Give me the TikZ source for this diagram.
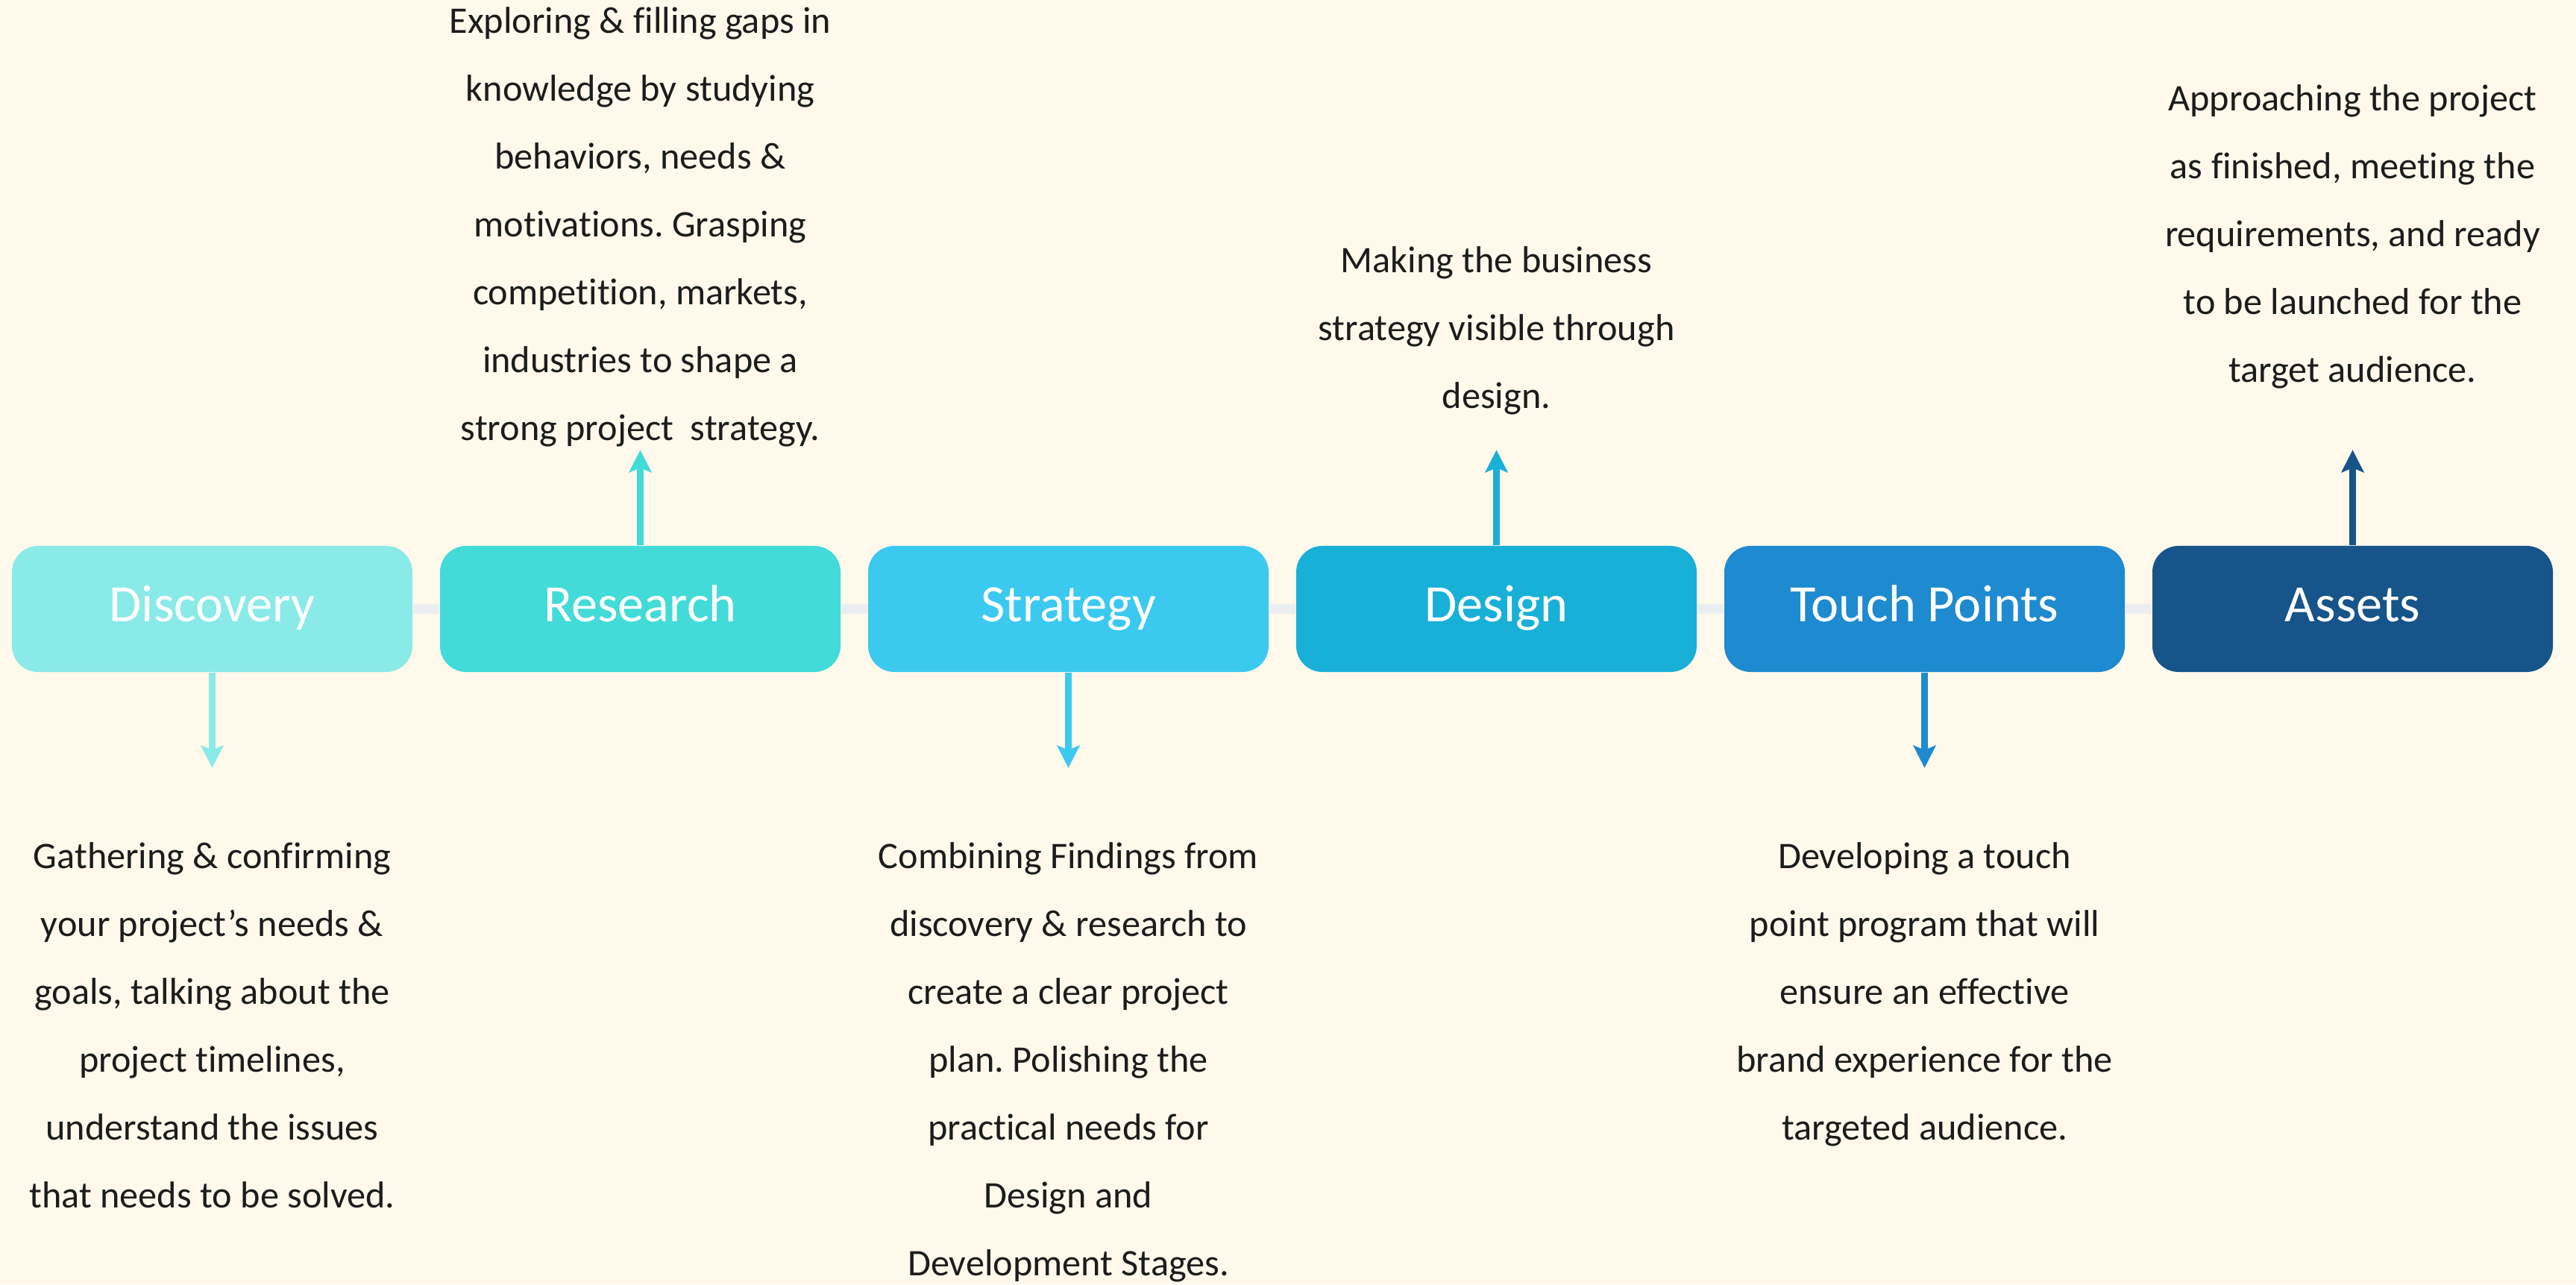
\documentclass[tikz,border=0pt]{standalone}
\usepackage{fontspec}
\setmainfont{Carlito}[Ligatures=NoCommon]
\usetikzlibrary{arrows.meta}
\frenchspacing
\definecolor{bgcream}{HTML}{FFF9EC}
\definecolor{linegrey}{HTML}{EBEEF0}
\definecolor{textdark}{HTML}{1C1C1C}
\definecolor{discoveryc}{HTML}{8AEAE8}
\definecolor{researchc}{HTML}{42DBD8}
\definecolor{strategyc}{HTML}{3BC9F0}
\definecolor{designc}{HTML}{19B0D8}
\definecolor{touchc}{HTML}{1E8AD0}
\definecolor{assetsc}{HTML}{165489}
\tikzset{
  stagebox/.style={rounded corners=0.35cm, minimum width=5.37cm, minimum height=1.69cm,
    inner sep=0pt, text height=14pt, text depth=4.6pt, text=white,
    font=\fontsize{20}{24}\selectfont},
  stagetext/.style={align=center, inner sep=0pt, anchor=north, text=textdark,
    font=\fontsize{14.3}{25.9}\selectfont},
  stagearrow/.style={-{Stealth[length=3mm,width=3mm,inset=0.6mm]}, line width=2.8pt},
  linkline/.style={linegrey, line width=3.7pt}
}
\begin{document}
\begin{tikzpicture}
  \useasboundingbox (0,0) rectangle (34.54,17.22);
  \fill[bgcream] (0,0) rectangle (34.54,17.22);
  % stages
  \node [stagebox, fill=discoveryc] (disc) at (2.845,9.055) {Discovery};
  \node [stagebox, fill=researchc] (res) at (8.585,9.055) {Research};
  \node [stagebox, fill=strategyc] (strat) at (14.325,9.055) {Strategy};
  \node [stagebox, fill=designc] (des) at (20.065,9.055) {Design};
  \node [stagebox, fill=touchc] (touch) at (25.805,9.055) {Touch Points};
  \node [stagebox, fill=assetsc] (assets) at (31.545,9.055) {Assets};
  % thin links between stages
  \draw [linkline] (disc.east) -- (res.west);
  \draw [linkline] (res.east) -- (strat.west);
  \draw [linkline] (strat.east) -- (des.west);
  \draw [linkline] (des.east) -- (touch.west);
  \draw [linkline] (touch.east) -- (assets.west);
  % arrow ends
  \coordinate (discTip) at ([yshift=-1.28cm]disc.south);
  \coordinate (resTip) at ([yshift=1.28cm]res.north);
  \coordinate (stratTip) at ([yshift=-1.28cm]strat.south);
  \coordinate (desTip) at ([yshift=1.28cm]des.north);
  \coordinate (touchTip) at ([yshift=-1.28cm]touch.south);
  \coordinate (assetsTip) at ([yshift=1.28cm]assets.north);
  \draw [stagearrow, discoveryc] (disc.south) -- (discTip);
  \draw [stagearrow, researchc] (res.north) -- (resTip);
  \draw [stagearrow, strategyc] (strat.south) -- (stratTip);
  \draw [stagearrow, designc] (des.north) -- (desTip);
  \draw [stagearrow, touchc] (touch.south) -- (touchTip);
  \draw [stagearrow, assetsc] (assets.north) -- (assetsTip);
  % descriptions
  \node [stagetext] (discText) at (2.845,5.93) {Gathering \& confirming\\your project’s needs \&\\goals, talking about the\\project timelines,\\understand the issues\\that needs to be solved.};
  \node [stagetext] (resText) at (8.585,17.13) {Exploring \& filling gaps in\\knowledge by studying\\behaviors, needs \&\\motivations. Grasping\\competition, markets,\\industries to shape a\\strong project\ \ strategy.};
  \node [stagetext] (stratText) at (14.325,5.93) {Combining Findings from\\discovery \& research to\\create a clear project\\plan. Polishing the\\practical needs for\\Design and\\Development Stages.};
  \node [stagetext] (desText) at (20.065,13.92) {Making the business\\strategy visible through\\design.};
  \node [stagetext] (touchText) at (25.805,5.93) {Developing a touch\\point program that will\\ensure an effective\\brand experience for the\\targeted audience.};
  \node [stagetext] (assetsText) at (31.545,16.09) {Approaching the project\\as finished, meeting the\\requirements, and ready\\to be launched for the\\target audience.};
\end{tikzpicture}
\end{document}
